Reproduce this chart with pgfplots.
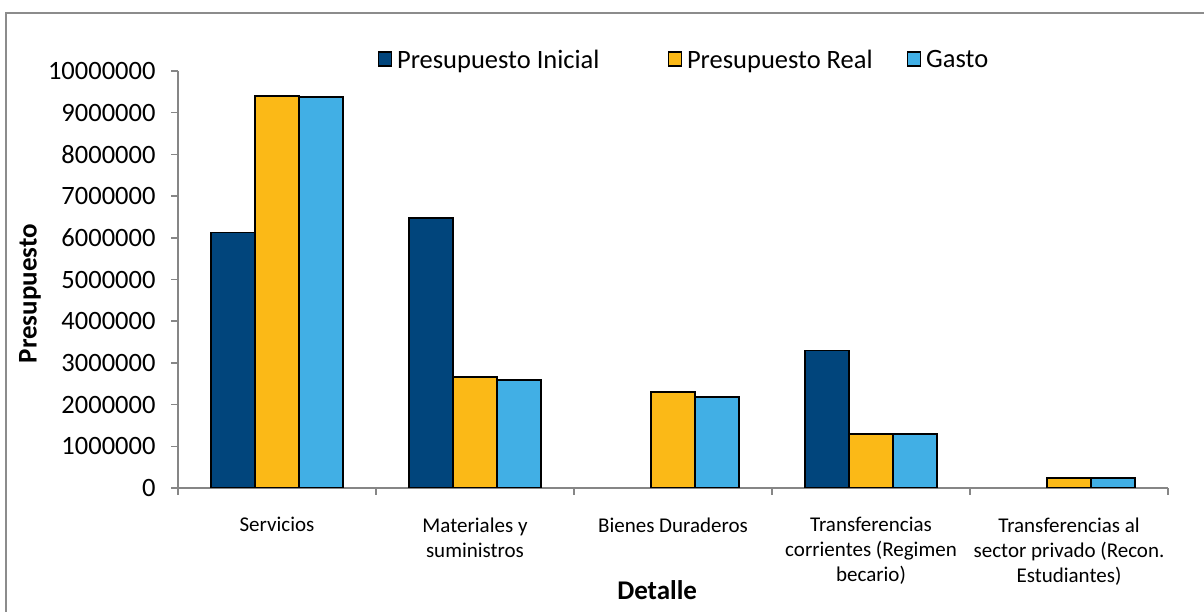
\documentclass[border=0pt]{standalone}
\usepackage{pgfplots}
\pgfplotsset{compat=1.18}
\usepackage{fontspec}
\setmainfont{Carlito}
\definecolor{cA}{RGB}{1,69,124}
\definecolor{cB}{RGB}{251,185,23}
\definecolor{cC}{RGB}{65,175,229}
\definecolor{axgray}{RGB}{134,134,134}
\definecolor{brdgray}{RGB}{140,140,140}
\begin{document}
\begin{tikzpicture}[x=1pt,y=1pt]
\path[use as bounding box] (0,0) rectangle (1204,612);
\draw[line width=2pt, brdgray] (6,-5) rectangle (1212,599);
\begin{axis}[
  at={(178pt,124pt)}, anchor=south west,
  scale only axis, width=990pt, height=417pt,
  ymin=0, ymax=10000000,
  ytick={0,1000000,...,10000000},
  scaled y ticks=false,
  yticklabel style={/pgf/number format/fixed, /pgf/number format/1000 sep={}, /pgf/number format/assume math mode=true, font=\fontsize{26.5}{30}\selectfont, xshift=-12pt},
  xmin=-0.5, xmax=4.5,
  xtick={-0.5,0.5,...,4.5},
  x tick label as interval,
  xticklabels={Servicios,{Materiales y\\suministros},Bienes Duraderos,{Transferencias\\corrientes (Regimen\\becario)},{Transferencias al\\sector privado (Recon.\\Estudiantes)}},
  xticklabel style={font=\fontsize{21}{25}\selectfont, align=center, yshift=-19pt},
  axis x line*=bottom, axis y line*=left,
  axis line style={axgray, line width=1.5pt, -},
  tick style={axgray, line width=1.5pt},
  major tick length=7pt, tick align=outside,
  ybar=0pt, bar width=44pt,
  xlabel={Detalle}, ylabel={Presupuesto},
  xlabel style={font=\bfseries\fontsize{27}{30}\selectfont, at={(axis description cs:0.484,-0.245)}, anchor=center},
  ylabel style={font=\bfseries\fontsize{27}{30}\selectfont, at={(axis description cs:-0.1495,0.466)}, anchor=center},
  legend cell align=left,
  legend style={at={(axis description cs:0.511,1.026)}, anchor=center, draw=none, fill=none, legend columns=3, font=\fontsize{26.5}{30}\selectfont, /tikz/every even column/.append style={column sep=32pt}, /tikz/every odd column/.append style={column sep=3pt}},
  legend image code/.code={\draw[#1,draw=black,line width=1.5pt] (0pt,-6pt) rectangle (13pt,8pt);},
]
\addplot[fill=cA, draw=black, line width=1.5pt] coordinates {(0,6130000) (1,6470000) (3,3300000)};
\addplot[fill=cB, draw=black, line width=1.5pt] coordinates {(0,9400000) (1,2660000) (2,2300000) (3,1290000) (4,240000)};
\addplot[fill=cC, draw=black, line width=1.5pt] coordinates {(0,9380000) (1,2590000) (2,2180000) (3,1290000) (4,240000)};
\legend{Presupuesto Inicial\hspace*{34pt}, Presupuesto Real, Gasto}
\end{axis}
\end{tikzpicture}
\end{document}
